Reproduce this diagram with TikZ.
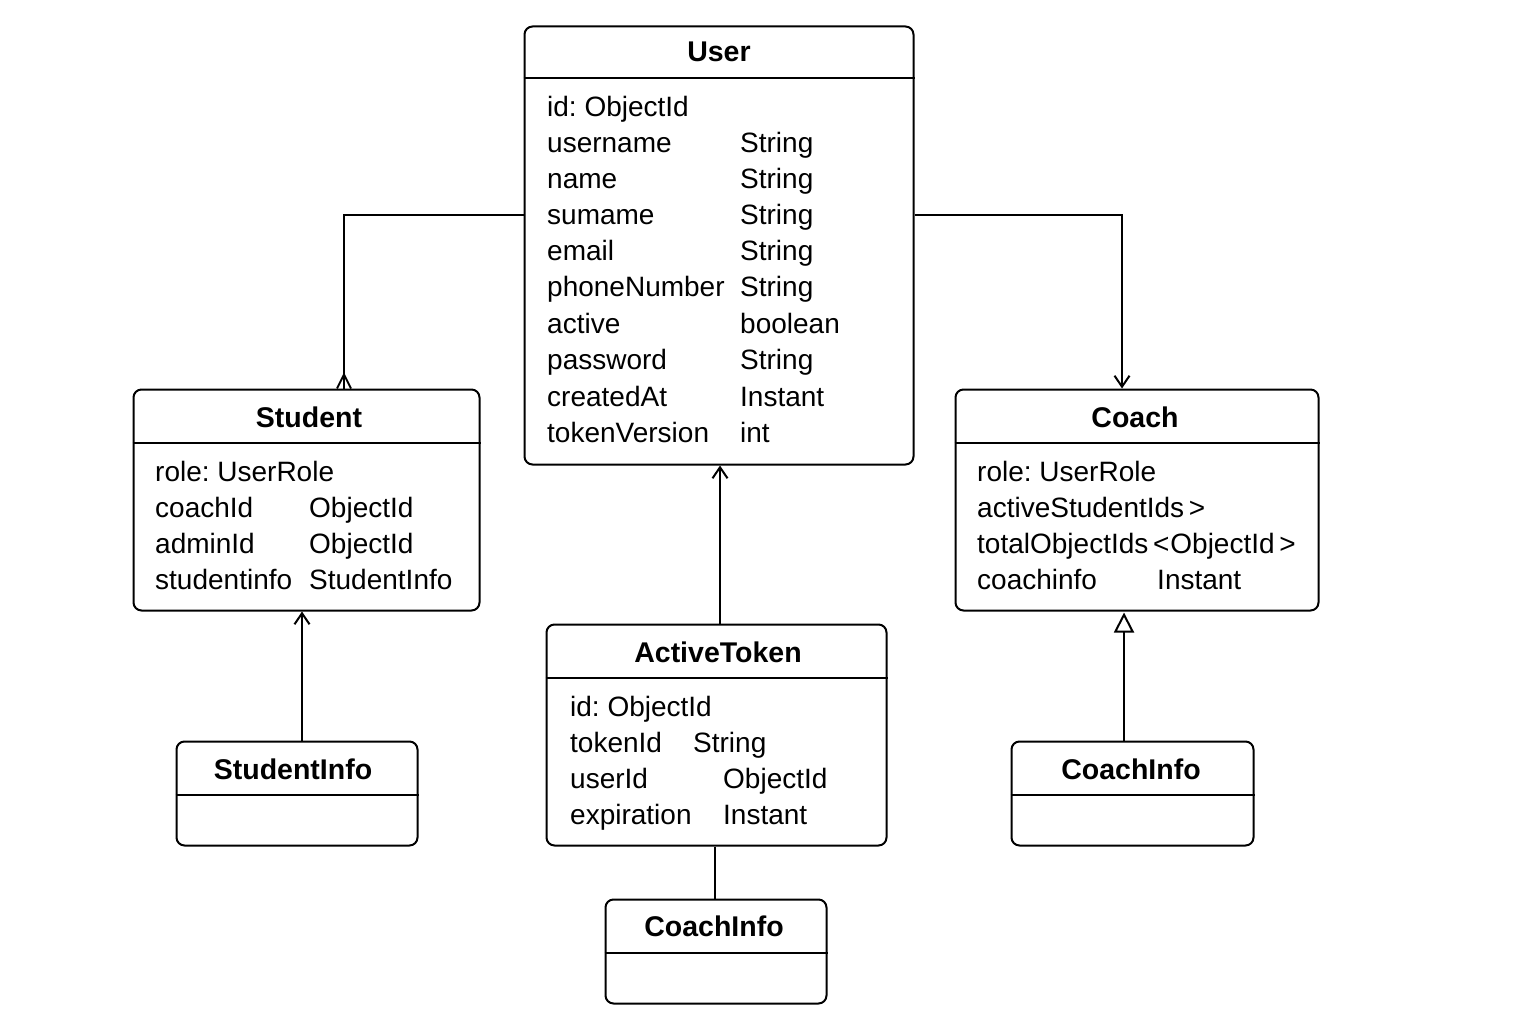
\documentclass[tikz,border=0pt]{standalone}
\usepackage{fontspec}
\setmainfont{Liberation Sans}
\usetikzlibrary{arrows.meta}
\begin{document}
\frenchspacing
\begin{tikzpicture}[x=1pt,y=-1pt,
  cls/.style={draw, line width=2pt, rounded corners=8pt, anchor=north west, inner sep=0pt},
  hdr/.style={font=\fontsize{28.5}{30}\selectfont\bfseries, anchor=base, inner sep=0pt},
  attr/.style={font=\fontsize{28}{30}\selectfont, anchor=base west, inner sep=0pt},
  conn/.style={line width=2pt},
  barb/.style={-{Straight Barb[length=11pt,width=15pt,line width=2pt]}},
  gen/.style={-{Triangle[open,length=20pt,width=20pt,line width=2pt,fill=white]}},
]
\useasboundingbox (0,0) rectangle (1536,1024);
\fill[white] (0,0) rectangle (1536,1024);

% ---------- User ----------
\node[cls, minimum width=389pt, minimum height=438pt] (user) at (523.5,25.5) {};
\draw[conn] ([yshift=-53pt]user.north west) -- ([yshift=-53pt]user.north east);
\node[hdr] (userT) at (719,62) {User};
\node[attr] (u1) at (547,117) {id: ObjectId};
\node[attr] (u2) at (547,153) {username};   \node[attr] (u2t) at (740,153) {String};
\node[attr] (u3) at (547,189) {name};       \node[attr] (u3t) at (740,189) {String};
\node[attr] (u4) at (547,225) {sumame};     \node[attr] (u4t) at (740,225) {String};
\node[attr] (u5) at (547,261) {email};      \node[attr] (u5t) at (740,261) {String};
\node[attr] (u6) at (547,297) {phoneNumber};\node[attr] (u6t) at (740,297) {String};
\node[attr] (u7) at (547,333) {active};     \node[attr] (u7t) at (740,333) {boolean};
\node[attr] (u8) at (547,369) {password};   \node[attr] (u8t) at (740,369) {String};
\node[attr] (u9) at (547,406) {createdAt};  \node[attr] (u9t) at (740,406) {Instant};
\node[attr] (u10) at (547,442) {tokenVersion};\node[attr] (u10t) at (740,442) {int};

% ---------- Student ----------
\node[cls, minimum width=346pt, minimum height=221pt] (student) at (132.5,388.5) {};
\draw[conn] ([yshift=-54pt]student.north west) -- ([yshift=-54pt]student.north east);
\node[hdr] (studentT) at (309,427) {Student};
\node[attr] (s1) at (155,481) {role: UserRole};
\node[attr] (s2) at (155,517) {coachId};    \node[attr] (s2t) at (309,517) {ObjectId};
\node[attr] (s3) at (155,553) {adminId};    \node[attr] (s3t) at (309,553) {ObjectId};
\node[attr] (s4) at (155,589) {studentinfo};\node[attr] (s4t) at (309,589) {StudentInfo};

% ---------- Coach ----------
\node[cls, minimum width=363pt, minimum height=221pt] (coach) at (954.5,388.5) {};
\draw[conn] ([yshift=-54pt]coach.north west) -- ([yshift=-54pt]coach.north east);
\node[hdr] (coachT) at (1135,427) {Coach};
\node[attr] (c1) at (977,481) {role: UserRole};
\node[attr] (c2) at (977,517) {activeStudentIds\,>};
\node[attr] (c3) at (977,553) {totalObjectIds\,<\kern1ptObjectId\,>};
\node[attr] (c4) at (977,589) {coachinfo};  \node[attr] (c4t) at (1157,589) {Instant};

% ---------- ActiveToken ----------
\node[cls, minimum width=340pt, minimum height=221pt] (atok) at (545.5,623.5) {};
\draw[conn] ([yshift=-54pt]atok.north west) -- ([yshift=-54pt]atok.north east);
\node[hdr] (atokT) at (718,662) {ActiveToken};
\node[attr] (a1) at (570,716) {id: ObjectId};
\node[attr] (a2) at (570,752) {tokenId};    \node[attr] (a2t) at (693,752) {String};
\node[attr] (a3) at (570,788) {userId};     \node[attr] (a3t) at (723,788) {ObjectId};
\node[attr] (a4) at (570,824) {expiration}; \node[attr] (a4t) at (723,824) {Instant};

% ---------- StudentInfo ----------
\node[cls, minimum width=241pt, minimum height=104pt] (sinfo) at (175.5,740.5) {};
\draw[conn] ([yshift=-54pt]sinfo.north west) -- ([yshift=-54pt]sinfo.north east);
\node[hdr] (sinfoT) at (293,779) {StudentInfo};

% ---------- CoachInfo (right) ----------
\node[cls, minimum width=242pt, minimum height=104pt] (cinfo) at (1010.5,740.5) {};
\draw[conn] ([yshift=-54pt]cinfo.north west) -- ([yshift=-54pt]cinfo.north east);
\node[hdr] (cinfoT) at (1131,779) {CoachInfo};

% ---------- CoachInfo (bottom) ----------
\node[cls, minimum width=221pt, minimum height=104pt] (cinfob) at (604.5,898.5) {};
\draw[conn] ([yshift=-54pt]cinfob.north west) -- ([yshift=-54pt]cinfob.north east);
\node[hdr] (cinfobT) at (714,936) {CoachInfo};

% ---------- Connectors ----------
% User -> Student (crow's foot)
\draw[conn] ([yshift=-190pt]user.north west) -| ([xshift=211.5pt]student.north west);
\coordinate (sfoot) at ([xshift=211.5pt,yshift=14pt]student.north west);
\draw[conn, line join=miter] ([xshift=204.5pt]student.north west) -- (sfoot) -- ([xshift=218.5pt]student.north west);
% User -> Coach
\draw[conn, barb] ([yshift=-190pt]user.north east) -| ([xshift=167.5pt]coach.north west);
% ActiveToken -> User
\draw[conn, barb] ([xshift=174.5pt]atok.north west) -- ([xshift=196.5pt]user.south west);
% StudentInfo -> Student
\draw[conn, barb] ([xshift=126.5pt]sinfo.north west) -- ([xshift=169.5pt]student.south west);
% CoachInfo -> Coach (generalization)
\draw[conn, gen] ([xshift=113.5pt]cinfo.north west) -- ([xshift=169.5pt,yshift=-1pt]coach.south west);
% ActiveToken -- CoachInfo (bottom)
\draw[conn] ([xshift=169.5pt]atok.south west) -- ([xshift=110.5pt]cinfob.north west);
\end{tikzpicture}
\end{document}
